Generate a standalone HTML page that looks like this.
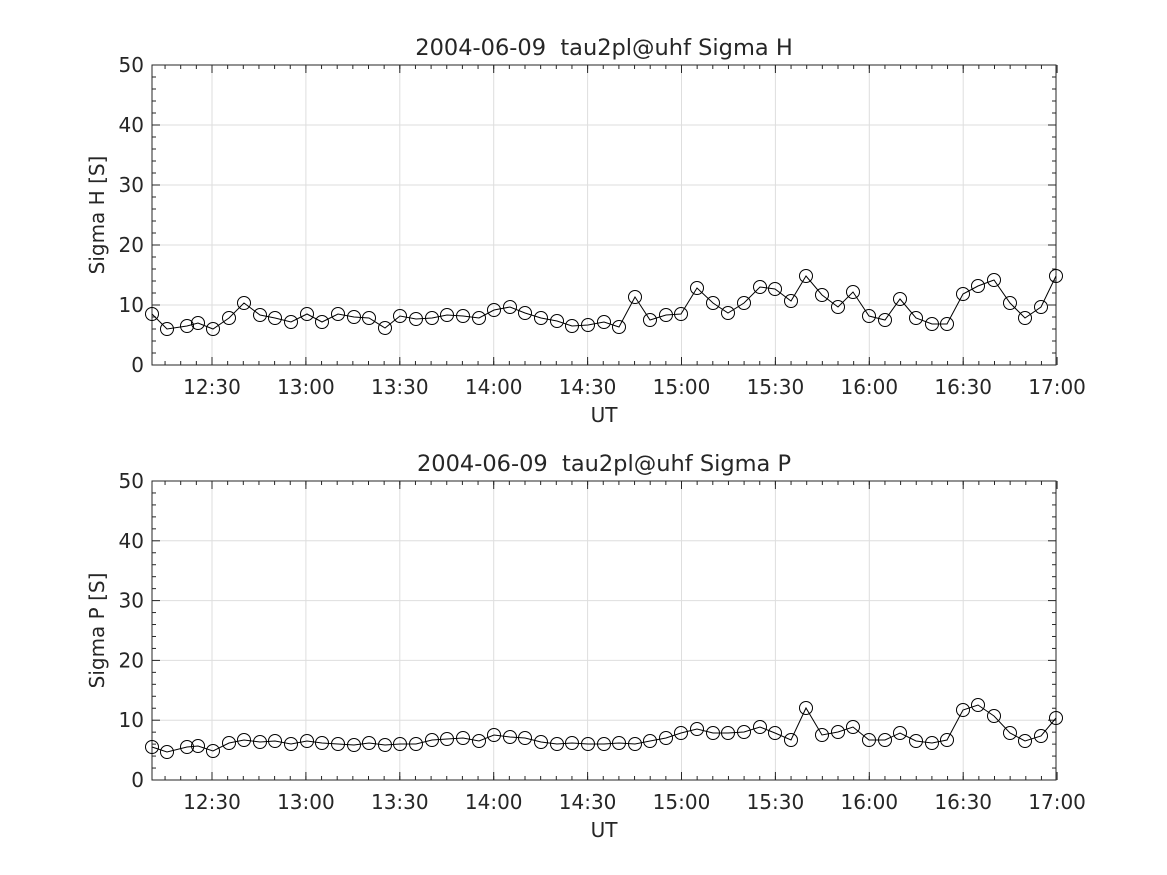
<!DOCTYPE html>
<html><head><meta charset="utf-8"><style>body{margin:0;background:#fff}svg{display:block}text{font-family:"DejaVu Sans","Liberation Sans",sans-serif;fill:#262626}</style></head>
<body><svg id="s" width="1167" height="875" xmlns="http://www.w3.org/2000/svg"></svg>
<script>
(function(){
const s=document.getElementById('s');let h='';
const X0=152,X1=1056;
const dataH=[[152,314],[167,329],[187,326],[198,323],[213,329],[229,318],[244,303],[260,315],[275,318],[291,322],[307,314],[322,322],[338,314],[354,317],[369,318],[385,328],[400,316],[416,319],[432,318],[447,315],[463,316],[479,318],[494,310],[510,307],[525,313],[541,318],[557,321],[572,326],[588,325],[604,322],[619,327],[635,297],[650,320],[666,315],[681,314],[697,288],[713,303],[728,313],[744,303],[760,287],[775,289],[791,301],[806,276],[822,295],[838,307],[853,292],[869,316],[885,320],[900,299],[916,318],[932,324],[947,324],[963,294],[978,286],[994,280],[1010,303],[1025,318],[1041,307],[1056,276]];
const dataP=[[152,747],[167,752],[187,747],[198,746],[213,751],[229,743],[244,740],[260,742],[275,741],[291,744],[307,741],[322,743],[338,744],[354,745],[369,743],[385,745],[400,744],[416,744],[432,740],[447,739],[463,738],[479,741],[494,735],[510,737],[525,738],[541,742],[557,744],[572,743],[588,744],[604,744],[619,743],[635,744],[650,741],[666,738],[681,733],[697,729],[713,733],[728,733],[744,732],[760,727],[775,733],[791,740],[806,708],[822,735],[838,732],[853,727],[869,740],[885,740],[900,733],[916,741],[932,743],[947,740],[963,710],[978,705],[994,716],[1010,733],[1025,741],[1041,736],[1056,718]];
const labs=['12:30','13:00','13:30','14:00','14:30','15:00','15:30','16:00','16:30','17:00'];
function panel(Y0,Y1,title,yl,data){
 const H=Y1-Y0;
 for(let i=1;i<5;i++){const y=Y0+H*i/5;h+=`<line x1="${X0}" x2="${X1}" y1="${y}" y2="${y}" stroke="#dedede"/>`;}
 labs.forEach((l,i)=>{const x=212+i*93.9;if(i<9)h+=`<line x1="${x}" x2="${x}" y1="${Y0}" y2="${Y1}" stroke="#dedede"/>`;
  h+=`<line x1="${x}" x2="${x}" y1="${Y1}" y2="${Y1-8}" stroke="#262626"/><line x1="${x}" x2="${x}" y1="${Y0}" y2="${Y0+8}" stroke="#262626"/>`;
  h+=`<text x="${x}" y="${Y1+29}" font-size="20" text-anchor="middle">${l}</text>`;});
 for(let x=212-93.9;x<X1;x+=93.9/6){if(x<X0)continue;h+=`<line x1="${x}" x2="${x}" y1="${Y1}" y2="${Y1-4}" stroke="#262626"/><line x1="${x}" x2="${x}" y1="${Y0}" y2="${Y0+4}" stroke="#262626"/>`;}
 for(let i=0;i<=25;i++){const y=Y1-H*i/25,L=i%5==0?8:4;h+=`<line x1="${X0}" x2="${X0+L}" y1="${y}" y2="${y}" stroke="#262626"/><line x1="${X1}" x2="${X1-L}" y1="${y}" y2="${y}" stroke="#262626"/>`;
  if(i%5==0)h+=`<text x="${X0-8}" y="${y+7}" font-size="20" text-anchor="end">${i*2}</text>`;}
 h+=`<rect x="${X0}" y="${Y0}" width="${X1-X0}" height="${H}" fill="none" stroke="#262626"/>`;
 h+=`<polyline fill="none" stroke="#000" points="${data.map(p=>p.join(',')).join(' ')}"/>`;
 data.forEach(p=>h+=`<circle cx="${p[0]}" cy="${p[1]}" r="6.5" fill="none" stroke="#000"/>`);
 h+=`<text x="604" y="${Y0-10}" font-size="22.5" text-anchor="middle">${title}</text>`;
 h+=`<text x="604" y="${Y1+57}" font-size="20" text-anchor="middle">UT</text>`;
 h+=`<text transform="translate(104,${(Y0+Y1)/2}) rotate(-90)" font-size="20" text-anchor="middle">${yl}</text>`;
}
panel(65,365,'2004-06-09&#160; tau2pl@uhf Sigma H','Sigma H [S]',dataH);
panel(481,780,'2004-06-09&#160; tau2pl@uhf Sigma P','Sigma P [S]',dataP);
s.innerHTML=h;
})();
</script></body></html>
